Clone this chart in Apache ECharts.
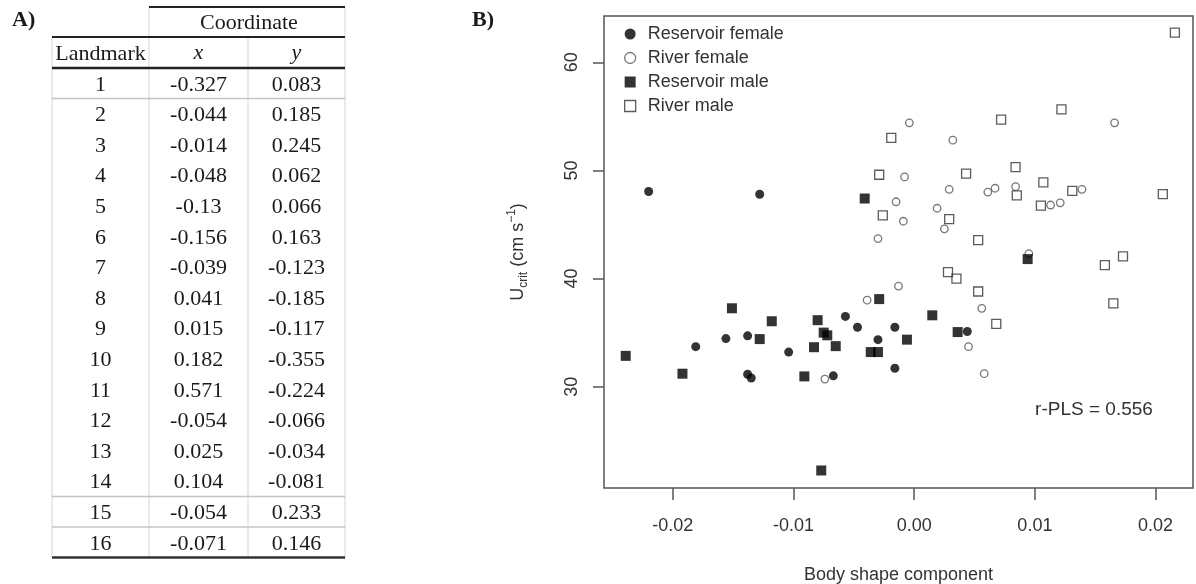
<!DOCTYPE html>
<html><head><meta charset="utf-8">
<script src="https://cdn.jsdelivr.net/npm/echarts@6/dist/echarts.min.js"></script>
<style>html,body{margin:0;padding:0;background:#fff}#c{width:1196px;height:584px}</style>
</head><body><div id="c"></div>
<script>
// ---------- Table A data ----------
const landmarks = ['1','2','3','4','5','6','7','8','9','10','11','12','13','14','15','16'];
const coordX = ['-0.327','-0.044','-0.014','-0.048','-0.13','-0.156','-0.039','0.041','0.015','0.182','0.571','-0.054','0.025','0.104','-0.054','-0.071'];
const coordY = ['0.083','0.185','0.245','0.062','0.066','0.163','-0.123','-0.185','-0.117','-0.355','-0.224','-0.066','-0.034','-0.081','0.233','0.146'];
const tableHeader = ['Landmark', 'x', 'y'];
const tableGroupHeader = 'Coordinate';

// ---------- Scatter B data ----------
const xTicks = [-0.02, -0.01, 0, 0.01, 0.02];
const yTicks = [30, 40, 50, 60];
const seriesNames = ['Reservoir female', 'River female', 'Reservoir male', 'River male'];
const reservoirFemale = [
  [-0.0220,48.05],[-0.0128,47.8],[-0.0181,33.7],[-0.0156,34.45],[-0.0138,34.7],
  [-0.0138,31.15],[-0.0135,30.8],[-0.0104,33.2],[-0.0067,31.0],[-0.0057,36.5],
  [-0.0047,35.5],[-0.0030,34.35],[-0.0016,35.5],[-0.0016,31.7],[0.0044,35.1]
];
const reservoirMale = [
  [-0.0239,32.85],[-0.0192,31.2],[-0.0151,37.25],[-0.0128,34.4],[-0.0118,36.05],
  [-0.0091,30.95],[-0.0083,33.65],[-0.0080,36.15],[-0.0075,35.0],[-0.0072,34.75],
  [-0.0065,33.75],[-0.0077,22.25],[-0.0041,47.4],[-0.0029,38.1],[-0.0036,33.2],
  [-0.0030,33.2],[-0.0006,34.35],[0.0015,36.6],[0.0036,35.05],[0.0094,41.8]
];
const riverFemale = [
  [-0.0074,30.7],[-0.0039,38.0],[-0.0013,39.3],[-0.0030,43.7],[-0.0015,47.1],
  [-0.0009,45.3],[-0.0008,49.4],[-0.0004,54.4],[0.0019,46.5],[0.0025,44.6],
  [0.0029,48.25],[0.0032,52.8],[0.0045,33.7],[0.0056,37.25],[0.0058,31.2],
  [0.0061,48.0],[0.0067,48.35],[0.0084,48.5],[0.0095,42.3],[0.0113,46.8],
  [0.0121,47.0],[0.0139,48.25],[0.0166,54.4]
];
const riverMale = [
  [-0.0019,53.0],[-0.0029,49.6],[-0.0026,45.85],[0.0029,45.5],[0.0028,40.6],
  [0.0035,40.0],[0.0043,49.7],[0.0053,43.55],[0.0053,38.8],[0.0068,35.8],
  [0.0072,54.7],[0.0084,50.3],[0.0085,47.7],[0.0105,46.75],[0.0107,48.9],
  [0.0122,55.65],[0.0131,48.1],[0.0158,41.25],[0.0165,37.7],[0.0173,42.05],
  [0.0206,47.8],[0.0216,62.75]
];
const statText = 'r-PLS = 0.556';

// ---------- styles ----------
const SANS = 'Liberation Sans, Arial, sans-serif';
const SERIF = 'Liberation Serif, Times New Roman, serif';
const styles = {
  'Reservoir female': {symbol:'circle', size:9, item:{color:'#000'}},
  'River female': {symbol:'circle', size:7.5, item:{color:'rgba(0,0,0,0)', borderColor:'#555', borderWidth:1.3}},
  'Reservoir male': {symbol:'rect', size:10, item:{color:'#000'}},
  'River male': {symbol:'rect', size:9, item:{color:'rgba(0,0,0,0)', borderColor:'#333', borderWidth:1.3}}
};
const dataByName = {
  'Reservoir female': reservoirFemale,
  'River female': riverFemale,
  'Reservoir male': reservoirMale,
  'River male': riverMale
};

// ---------- table graphics ----------
const T = {x:[52,149,248,345], topLine:7, grpLine:37, hdrLine:68, rowH:30.6, textSize:22};
const g = [];
function line(x1,y1,x2,y2,stroke,w){ g.push({type:'line', silent:true, shape:{x1,y1,x2,y2}, style:{stroke, lineWidth:w}}); }
function text(x,y,t,font,align){ g.push({type:'text', silent:true, x, y, style:{text:t, font, fill:'#1a1a1a', align:align||'center', verticalAlign:'middle'}}); }
const nRows = landmarks.length;
const bottom = T.hdrLine + nRows*T.rowH;
// vertical grey rules
line(T.x[0], T.grpLine, T.x[0], bottom, '#d4d4d4', 1);
line(T.x[1], T.topLine, T.x[1], bottom, '#d4d4d4', 1);
line(T.x[2], T.grpLine, T.x[2], bottom, '#d4d4d4', 1);
line(T.x[3], T.topLine, T.x[3], bottom, '#d4d4d4', 1);
// thin grey horizontal rules
[1, 14, 15].forEach(i => line(T.x[0], T.hdrLine + i*T.rowH, T.x[3], T.hdrLine + i*T.rowH, '#c4c4c4', 1.5));
// dark rules
line(T.x[1], T.topLine, T.x[3], T.topLine, '#222', 2);
line(T.x[0], T.grpLine, T.x[3], T.grpLine, '#222', 2);
line(T.x[0], T.hdrLine, T.x[3], T.hdrLine, '#222', 2.5);
line(T.x[0], bottom, T.x[3], bottom, '#333', 2.5);
// header texts
const cx = [(T.x[0]+T.x[1])/2, (T.x[1]+T.x[2])/2, (T.x[2]+T.x[3])/2];
text((T.x[1]+T.x[3])/2 + 2, 23, tableGroupHeader, T.textSize + 'px ' + SERIF);
text(cx[0], 54, tableHeader[0], T.textSize + 'px ' + SERIF);
text(cx[1], 53, tableHeader[1], 'italic ' + T.textSize + 'px ' + SERIF);
text(cx[2], 53, tableHeader[2], 'italic ' + T.textSize + 'px ' + SERIF);
for (let i = 0; i < nRows; i++) {
  const yc = T.hdrLine + (i + 0.5) * T.rowH + 1.5;
  text(cx[0], yc, landmarks[i], T.textSize + 'px ' + SERIF);
  text(cx[1], yc, coordX[i], T.textSize + 'px ' + SERIF);
  text(cx[2], yc, coordY[i], T.textSize + 'px ' + SERIF);
}
// panel letters
text(12, 20, 'A)', 'bold 22px ' + SERIF, 'left');
text(472, 20, 'B)', 'bold 22px ' + SERIF, 'left');
// stat annotation
g.push({type:'text', silent:true, x:1094, y:410, style:{text:statText, font:'19px ' + SANS, fill:'#333', align:'center', verticalAlign:'middle'}});

const chart = echarts.init(document.getElementById('c'));
chart.setOption({
  animation: false,
  backgroundColor: '#fff',
  grid: {left:604, right:3, top:16, bottom:96, show:true, borderColor:'#555', borderWidth:1.5, backgroundColor:'transparent', outerBoundsMode:'none'},
  xAxis: {
    type:'value', min:-0.0257, max:0.0231,
    name:'Body shape component', nameLocation:'middle', nameGap:78,
    nameTextStyle:{fontFamily:SANS, fontSize:18, color:'#333'},
    axisLine:{show:false, onZero:false}, splitLine:{show:false},
    axisTick:{show:true, inside:false, length:12, customValues:xTicks, lineStyle:{color:'#555', width:1.5}},
    axisLabel:{customValues:xTicks, margin:29, fontFamily:SANS, fontSize:18, color:'#333', formatter:v => v.toFixed(2)}
  },
  yAxis: {
    type:'value', min:20.63, max:64.28,
    name:'{n|U}{sub|crit}{n| (cm s}{sup|−1}{n|)}', nameLocation:'middle', nameRotate:90, nameGap:74,
    nameTextStyle:{
      fontFamily:SANS, fontSize:18, color:'#333',
      rich:{
        n:{fontFamily:SANS, fontSize:18, color:'#333', lineHeight:24},
        sub:{fontFamily:SANS, fontSize:12, color:'#333', lineHeight:12, verticalAlign:'bottom'},
        sup:{fontFamily:SANS, fontSize:12, color:'#333', lineHeight:12, verticalAlign:'top'}
      }
    },
    axisLine:{show:false, onZero:false}, splitLine:{show:false},
    axisTick:{show:true, inside:false, length:11, customValues:yTicks, lineStyle:{color:'#555', width:1.5}},
    axisLabel:{customValues:yTicks, rotate:90, margin:23, fontFamily:SANS, fontSize:18, color:'#333', formatter:v => String(v)}
  },
  legend: {
    orient:'vertical', left:624, top:25, padding:0, itemWidth:11, itemHeight:11, itemGap:6,
    selectedMode:false,
    textStyle:{fontFamily:SANS, fontSize:18, color:'#333', padding:[0,0,0,7]},
    data: seriesNames.map(n => ({name:n, icon: styles[n].symbol, itemStyle: styles[n].item}))
  },
  series: seriesNames.map(n => ({
    name:n, type:'scatter', data:dataByName[n],
    symbol:styles[n].symbol, symbolSize:styles[n].size,
    itemStyle:styles[n].item, emphasis:{disabled:true}, silent:true
  })),
  graphic: g
});
</script>
</body></html>
